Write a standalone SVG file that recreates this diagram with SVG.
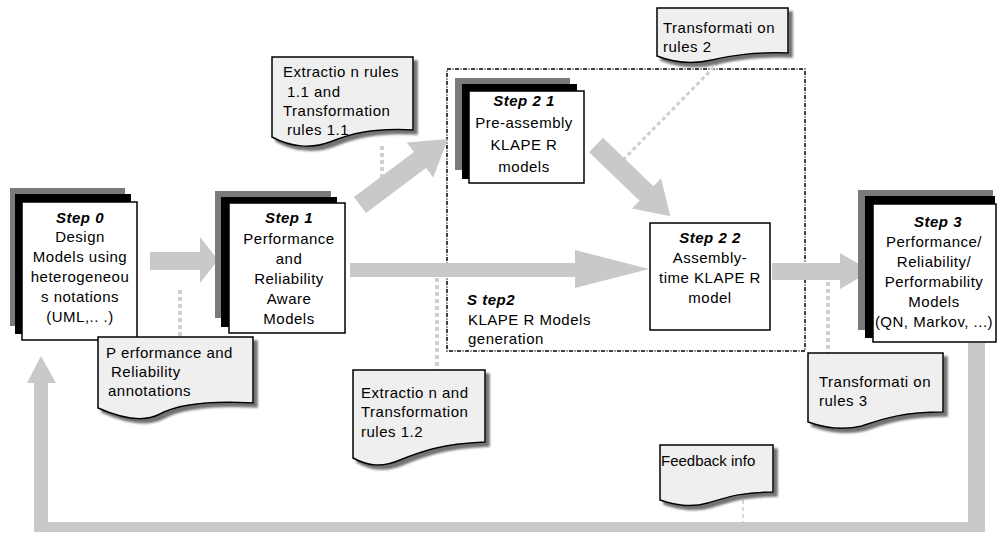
<svg xmlns="http://www.w3.org/2000/svg" width="998" height="533" viewBox="0 0 998 533">
  <defs>
    <style>
      text { font-family: "Liberation Sans", Arial, sans-serif; font-size: 15px; letter-spacing: 0.5px; fill: #000; }
      .c { text-anchor: middle; }
      .t { font-weight: bold; font-style: italic; }
      .back { fill: #7a7a7a; }
      .mid { fill: #000; }
      .front { fill: #fff; stroke: #000; stroke-width: 1.5; }
      .note { fill: #efefef; stroke: #000; stroke-width: 1.5; filter: url(#shadow); }
      .flow { fill: #c9c9c9; }
      .dot { stroke: #cfcfcf; stroke-width: 4; stroke-dasharray: 4 3; fill: none; }
      .frame { fill: none; stroke: #000; stroke-width: 1.5; stroke-dasharray: 4 1.5 1 1.5; }
    </style>
    <filter id="shadow" x="-10%" y="-10%" width="130%" height="140%">
      <feDropShadow dx="4" dy="4" stdDeviation="1.2" flood-color="#444" flood-opacity="0.75"/>
    </filter>
  </defs>

  <!-- Step 2 container -->
  <g id="step2">
    <rect class="frame" x="447" y="69" width="358" height="282"/>
    <text class="t" x="467" y="305">S tep2</text>
    <text x="468" y="325">KLAPE R Models</text>
    <text x="468" y="344">generation</text>
  </g>

  <!-- connectors -->
  <g id="connectors">
    <!-- dotted links from the rule notes -->
    <line class="dot" x1="180" y1="290" x2="180" y2="338"/>
    <line class="dot" x1="382" y1="146" x2="382" y2="178"/>
    <line class="dot" x1="623" y1="160" x2="717" y2="64" style="stroke-width:3"/>
    <line class="dot" x1="437" y1="278" x2="437" y2="370"/>
    <line class="dot" x1="828" y1="282" x2="828" y2="353"/>
    <line class="dot" x1="743" y1="500" x2="743" y2="522" style="stroke-width:2;stroke:#d8d8d8"/>

    <!-- Step 0 -> Step 1 -->
    <polygon class="flow" points="150,252 200,252 200,237 218,260 200,283 200,270 150,270"/>
    <!-- Step 1 -> Step 2 1 -->
    <polygon class="flow" transform="translate(360,205) rotate(-36.9)" points="0,-10 75,-10 75,-22 110,0 75,22 75,10 0,10"/>
    <!-- Step 1 -> Step 2 2 -->
    <polygon class="flow" points="350,263 575,263 575,250 649,269 575,288 575,277 350,277"/>
    <!-- Step 2 1 -> Step 2 2 -->
    <polygon class="flow" transform="translate(596,145) rotate(43.8)" points="0,-10 70,-10 70,-21 103,0 70,21 70,10 0,10"/>
    <!-- Step 2 2 -> Step 3 -->
    <polygon class="flow" points="772,263 840,263 840,253 871,271 840,289 840,280 772,280"/>
    <!-- feedback loop back to Step 0 -->
    <polygon class="flow" points="968,343 985,343 985,532 34,532 34,383 27,383 41,356 56,383 48,383 48,522 968,522"/>
  </g>

  <!-- Step 0 -->
  <g id="step0">
    <rect class="back" x="10" y="188" width="115" height="138"/>
    <rect class="mid" x="15" y="194" width="116" height="140"/>
    <rect class="front" x="22" y="202" width="115" height="138"/>
    <text class="c t" x="80" y="223">Step 0</text>
    <text class="c" x="80" y="242">Design</text>
    <text class="c" x="80" y="262">Models using</text>
    <text class="c" x="80" y="282">heterogeneou</text>
    <text class="c" x="80" y="302">s notations</text>
    <text class="c" x="80" y="322">(UML,.. .)</text>
  </g>

  <!-- Step 1 -->
  <g id="step1">
    <rect class="back" x="215" y="191" width="116" height="127"/>
    <rect class="mid" x="221" y="197" width="116" height="130"/>
    <rect class="front" x="229" y="203" width="116" height="130"/>
    <text class="c t" x="289" y="223">Step 1</text>
    <text class="c" x="289" y="244">Performance</text>
    <text class="c" x="289" y="264">and</text>
    <text class="c" x="289" y="284">Reliability</text>
    <text class="c" x="289" y="304">Aware</text>
    <text class="c" x="289" y="324">Models</text>
  </g>

  <!-- Step 2 1 -->
  <g id="step21">
    <rect class="back" x="455" y="78" width="115" height="92"/>
    <rect class="mid" x="462" y="84" width="115" height="95"/>
    <rect class="front" x="469" y="91" width="115" height="92"/>
    <text class="c t" x="524" y="106">Step 2 1</text>
    <text class="c" x="524" y="128">Pre-assembly</text>
    <text class="c" x="524" y="150">KLAPE R</text>
    <text class="c" x="524" y="172">models</text>
  </g>

  <!-- Step 2 2 -->
  <g id="step22">
    <rect class="front" x="650" y="223" width="120" height="107"/>
    <text class="c t" x="710" y="243">Step 2 2</text>
    <text class="c" x="710" y="263">Assembly-</text>
    <text class="c" x="710" y="283">time KLAPE R</text>
    <text class="c" x="710" y="303">model</text>
  </g>

  <!-- Step 3 -->
  <g id="step3">
    <rect class="back" x="858" y="190" width="135" height="140"/>
    <rect class="mid" x="865" y="196" width="130" height="142"/>
    <rect class="front" x="873" y="204" width="123" height="138"/>
    <text class="c t" x="938" y="227">Step 3</text>
    <text class="c" x="934" y="247">Performance/</text>
    <text class="c" x="934" y="267">Reliability/</text>
    <text class="c" x="934" y="287">Performability</text>
    <text class="c" x="934" y="307">Models</text>
    <text class="c" x="934" y="327">(QN, Markov, ...)</text>
  </g>

  <!-- rule notes -->
  <g id="note-annotations">
    <path class="note" d="M98,337 H253 V403 C200,400 175,406 160,414 C145,422 125,420 98,408 Z"/>
    <text x="106" y="358">P erformance and</text>
    <text x="111" y="377">Reliability</text>
    <text x="108" y="396">annotations</text>
  </g>

  <g id="note-rules11">
    <path class="note" d="M272,57 H413 V130 C370,128 350,134 330,142 C312,149 290,147 272,137 Z"/>
    <text x="283" y="77">Extractio n rules</text>
    <text x="287" y="97">1.1 and</text>
    <text x="283" y="116">Transformation</text>
    <text x="287" y="135">rules 1.1</text>
  </g>

  <g id="note-rules2">
    <path class="note" d="M657,8 H788 V53 C750,52 730,56 712,60 C695,64 675,63 657,56 Z"/>
    <text x="663" y="33">Transformati on</text>
    <text x="663" y="52">rules 2</text>
  </g>

  <g id="note-rules12">
    <path class="note" d="M353,370 H485 V442 C440,444 420,452 400,460 C382,468 368,466 353,458 Z"/>
    <text x="361" y="398">Extractio n and</text>
    <text x="361" y="417">Transformation</text>
    <text x="361" y="437">rules 1.2</text>
  </g>

  <g id="note-rules3">
    <path class="note" d="M808,353 H943 V412 C900,412 880,420 862,426 C842,431 825,428 808,422 Z"/>
    <text x="819" y="387">Transformati on</text>
    <text x="819" y="406">rules 3</text>
  </g>

  <g id="note-feedback">
    <path class="note" d="M660,445 H773 V492 C740,492 725,498 708,503 C690,508 675,505 660,500 Z"/>
    <text x="661" y="466" style="letter-spacing:0">Feedback info</text>
  </g>
</svg>
